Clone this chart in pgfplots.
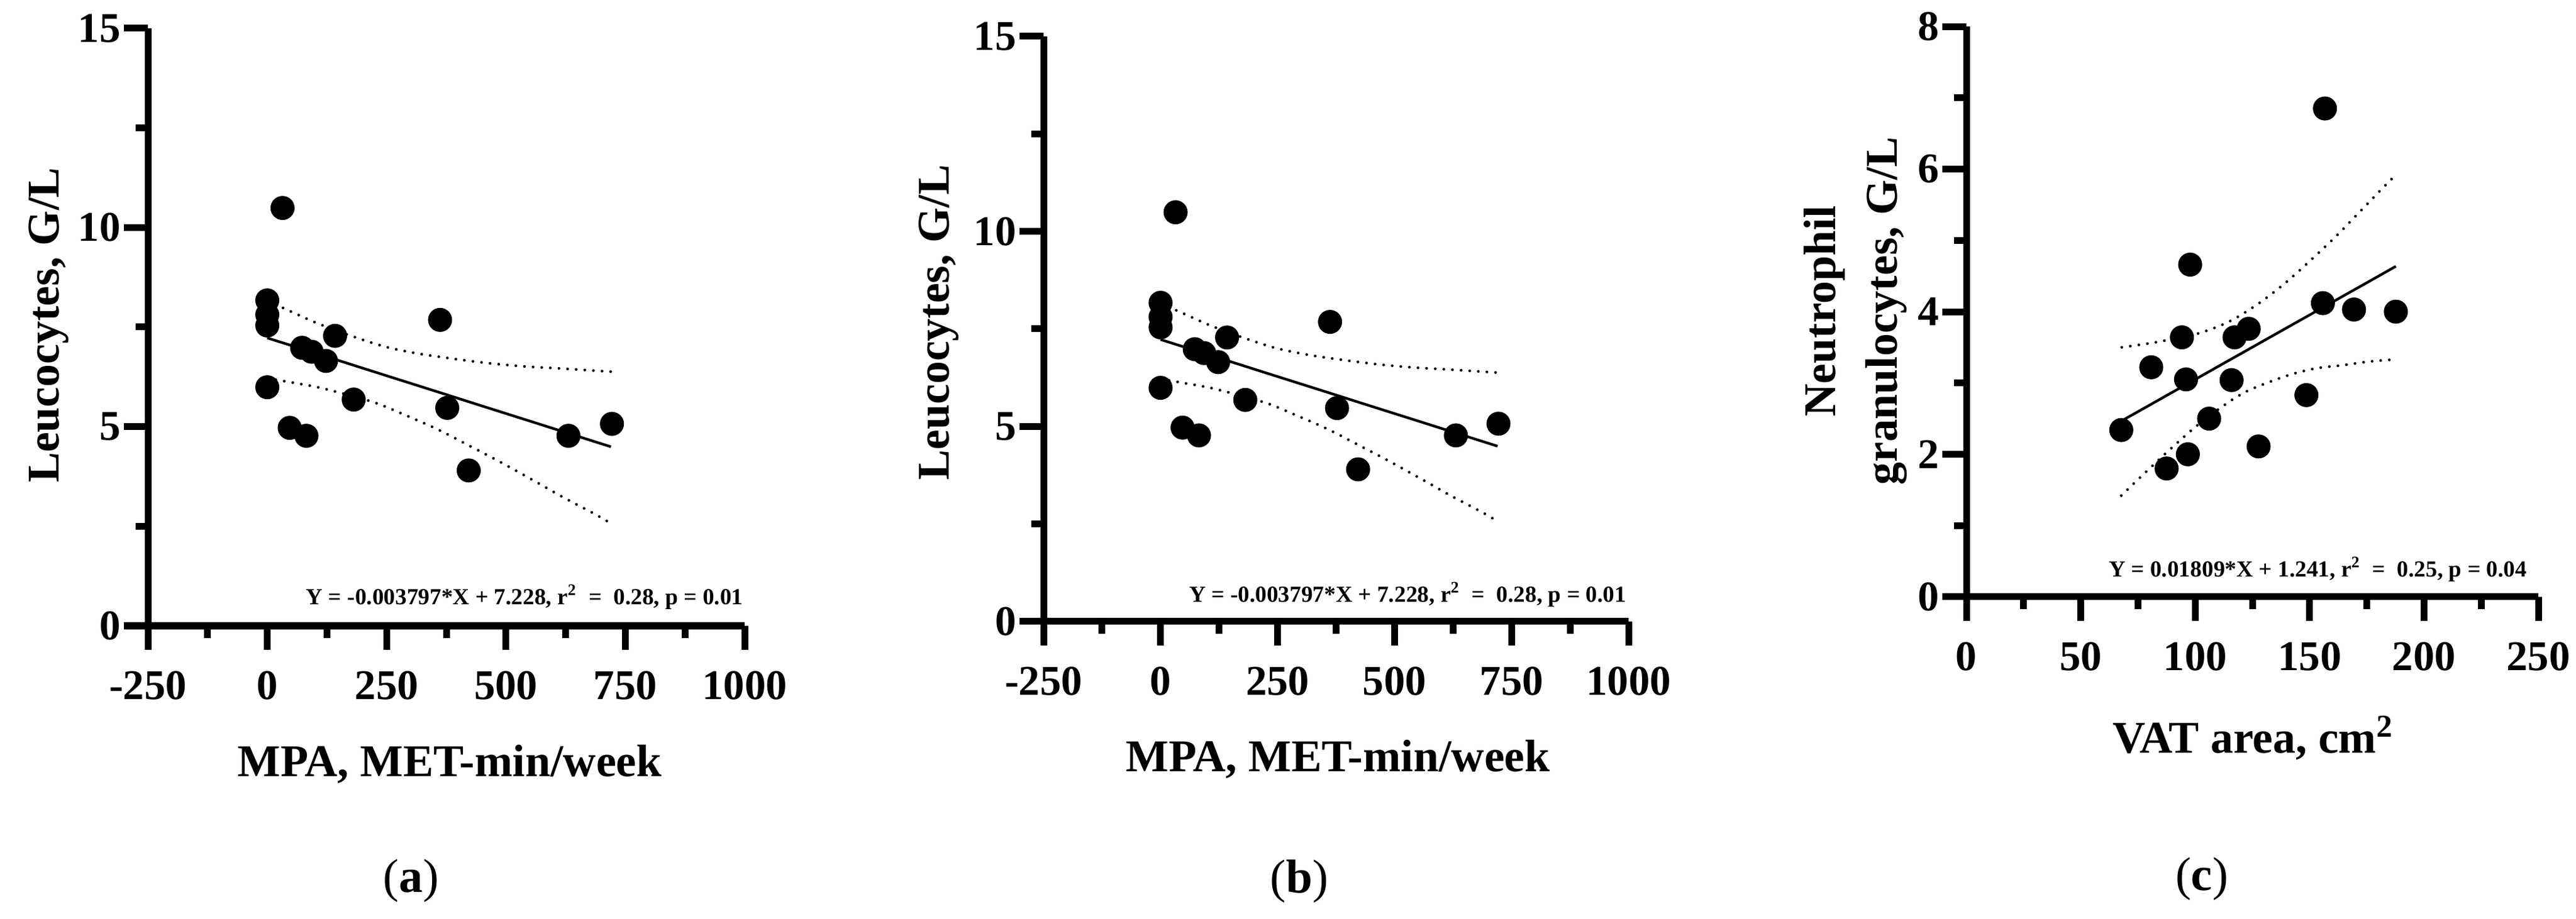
\documentclass[border=0pt]{standalone}
\usepackage{fontspec}
\setmainfont{Liberation Serif}
\usepackage{pgfplots}
\pgfplotsset{compat=1.18}

\pgfplotsset{
  prism/.style={
    scale only axis,
    anchor=south west,
    clip=false,
    axis lines=left,
    axis line style={line width=2.2bp, -},
    x axis line style={line width=2.2bp, -},
    y axis line style={line width=2.2bp, -},
    every outer x axis line/.append style={-},
    every outer y axis line/.append style={-},
    tick align=outside,
    major tick length=7.8bp,
    minor tick length=4bp,
    tick style={line width=2.2bp, black},
    major tick style={line width=2.2bp, black},
    minor tick style={line width=2.2bp, black},
    minor x tick num=1, minor y tick num=1,
    ticklabel style={font=\fontsize{13.8}{15}\selectfont\bfseries},
    xticklabel style={yshift=-3.5bp},
    yticklabel style={xshift=2.4bp},
  },
  pts/.style={only marks, mark=*, mark size=3.7bp, black, mark options={fill=black, draw=black}},
  fit/.style={black, line width=0.85bp, no marks},
  band/.style={black, line width=0.9bp, dash pattern=on 0bp off 2.8bp, line cap=round, no marks, smooth},
}
\tikzset{
  lab/.style={font=\fontsize{14.8}{17}\selectfont\bfseries},
  eqn/.style={font=\fontsize{7.5}{9}\selectfont\bfseries, inner sep=0pt},
  capt/.style={font=\fontsize{15.5}{17}\selectfont},
}

\pgfplotstableread{
x y
32 10.49
0 8.17
0 7.81
0 7.54
0 5.99
47 4.97
82 4.77
73 6.98
93 6.88
123 6.65
142 7.28
181 5.68
362 7.68
377 5.47
422 3.90
631 4.77
722 5.07
}\leuco

\pgfplotstableread{
x y
67.7 2.34
80.8 3.22
87.5 1.80
94.2 3.64
96.0 3.05
96.8 2.00
97.8 4.66
106.1 2.50
115.9 3.04
117.2 3.64
123.4 3.76
127.7 2.11
148.6 2.83
155.8 4.12
156.7 6.85
169.4 4.03
187.7 4.00
}\neutro

\begin{document}
\begin{tikzpicture}
\path[use as bounding box] (0,0) rectangle (835.8bp,298.4bp);

% ---------- panel a ----------
\begin{axis}[prism,
  at={(48bp,95.2bp)}, width=193.6bp, height=194bp,
  xmin=-250, xmax=1000, ymin=0, ymax=15,
  xtick={-250,0,250,500,750,1000}, xticklabels={-250,0,250,500,750,1000},
  ytick={0,5,10,15}, yticklabels={0,5,10,15}]
\addplot[band] coordinates {(0,8.16) (34,7.975) (104,7.60) (173,7.29) (246,7.01) (318,6.83) (392,6.70) (466,6.59) (541,6.51) (615,6.46) (720,6.38)};
\addplot[band] coordinates {(0,6.22) (41,6.13) (113,5.97) (221,5.62) (291,5.28) (359,4.92) (425,4.51) (490,4.10) (556,3.66) (621,3.22) (687,2.80) (720,2.57)};
\addplot[fit] coordinates {(0,7.228) (720,4.494)};
\addplot[pts] table {\leuco};
\end{axis}

% ---------- panel b ----------
\begin{axis}[prism,
  at={(338.6bp,96.6bp)}, width=189.8bp, height=190bp,
  xmin=-250, xmax=1000, ymin=0, ymax=15,
  xtick={-250,0,250,500,750,1000}, xticklabels={-250,0,250,500,750,1000},
  ytick={0,5,10,15}, yticklabels={0,5,10,15}]
\addplot[band] coordinates {(0,8.16) (34,7.975) (104,7.60) (173,7.29) (246,7.01) (318,6.83) (392,6.70) (466,6.59) (541,6.51) (615,6.46) (720,6.38)};
\addplot[band] coordinates {(0,6.22) (41,6.13) (113,5.97) (221,5.62) (291,5.28) (359,4.92) (425,4.51) (490,4.10) (556,3.66) (621,3.22) (687,2.80) (720,2.57)};
\addplot[fit] coordinates {(0,7.228) (720,4.494)};
\addplot[pts] table {\leuco};
\end{axis}

% ---------- panel c ----------
\begin{axis}[prism,
  at={(638bp,104.6bp)}, width=185.6bp, height=185.2bp,
  xmin=0, xmax=250, ymin=0, ymax=8,
  xtick={0,50,100,150,200,250}, xticklabels={0,50,100,150,200,250},
  ytick={0,2,4,6,8}, yticklabels={0,2,4,6,8}]
\addplot[band] coordinates {(67.9,3.50) (82.5,3.57) (100.9,3.69) (114.8,3.86) (127.5,4.11) (139.3,4.40) (150.4,4.72) (161.3,5.05) (171.9,5.40) (182.1,5.74) (187.7,5.92)};
\addplot[band] coordinates {(67.7,1.42) (78.4,1.75) (89.4,2.08) (100.7,2.40) (112.3,2.68) (121.7,2.87) (132.1,3.01) (142.9,3.13) (153.7,3.21) (164.8,3.25) (175.9,3.30) (187.7,3.33)};
\addplot[fit] coordinates {(67.7,2.466) (187.7,4.636)};
\addplot[pts] table {\neutro};
\end{axis}

% ---------- labels ----------
\node[lab, rotate=90, anchor=base] at (19bp,192.8bp) {Leucocytes, G/L};
\node[lab, anchor=base] at (145.9bp,46.2bp) {MPA, MET-min/week};
\node[eqn, anchor=base east] at (241.3bp,102.1bp) {Y = -0.003797*X + 7.228, r\textsuperscript{2}\ \ =\ \ 0.28, p = 0.01};
\node[capt] at (133.4bp,12.4bp) {(\textbf{a})};

\node[lab, rotate=90, anchor=base] at (307.8bp,193.7bp) {Leucocytes, G/L};
\node[lab, anchor=base] at (434.1bp,47.8bp) {MPA, MET-min/week};
\node[eqn, anchor=base east] at (527.8bp,102.9bp) {Y = -0.003797*X + 7.228, r\textsuperscript{2}\ \ =\ \ 0.28, p = 0.01};
\node[capt] at (421.6bp,12.2bp) {(\textbf{b})};

\node[lab, rotate=90, anchor=base] at (595.4bp,197.4bp) {Neutrophil};
\node[lab, rotate=90, anchor=base] at (615.4bp,197.4bp) {granulocytes, G/L};
\node[lab, anchor=base] at (731.1bp,53.8bp) {VAT area, cm\textsuperscript{2}};
\node[eqn, anchor=base east] at (820bp,111bp) {Y = 0.01809*X + 1.241, r\textsuperscript{2}\ \ =\ \ 0.25, p = 0.04};
\node[capt] at (714.4bp,13bp) {(\textbf{c})};
\end{tikzpicture}
\end{document}
